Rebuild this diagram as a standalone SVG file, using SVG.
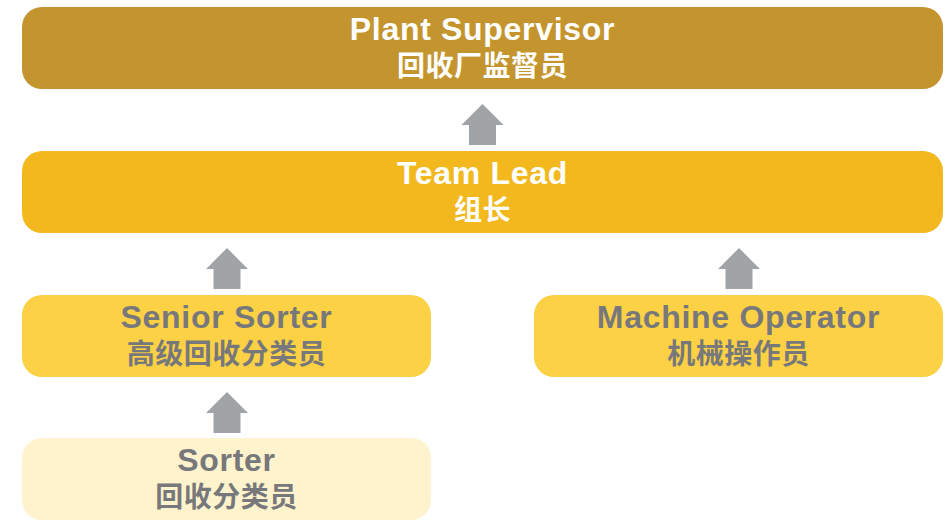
<svg xmlns="http://www.w3.org/2000/svg" width="951" height="521" viewBox="0 0 951 521">
  <defs>
    <style>
      .en { font-family: "Liberation Sans", Arial, sans-serif; font-weight: bold; font-size: 32px; letter-spacing: 0.7px; text-anchor: middle; }
      .zh { font-family: "Noto Sans CJK SC", "Liberation Sans", sans-serif; font-weight: bold; font-size: 28px; letter-spacing: 0.5px; text-anchor: middle; }
      .light { fill: #ffffff; }
      .dark { fill: #77787b; }
      .arrow { fill: #a1a4a7; }
    </style>
    <!-- block arrow pointing up, tip at origin -->
    <path id="up" d="M0 0 L21 21 L13.5 21 L13.5 41 L-13.5 41 L-13.5 21 L-21 21 Z"/>
  </defs>
  <rect width="951" height="521" fill="#ffffff"/>

  <g id="connectors">
    <use href="#up" class="arrow" x="482.5" y="104"/>
    <use href="#up" class="arrow" x="227" y="248"/>
    <use href="#up" class="arrow" x="739" y="248"/>
    <use href="#up" class="arrow" x="227" y="392"/>
  </g>

  <g id="plant-supervisor">
    <rect x="22" y="7" width="921" height="82" rx="20" fill="#c4952e"/>
    <text class="en light" x="482.5" y="40">Plant Supervisor</text>
    <text class="zh light" x="482.5" y="75.5">回收厂监督员</text>
  </g>

  <g id="team-lead">
    <rect x="22" y="151" width="921" height="82" rx="20" fill="#f2b81e"/>
    <text class="en light" x="482.5" y="184">Team Lead</text>
    <text class="zh light" x="482.5" y="219.5">组长</text>
  </g>

  <g id="senior-sorter">
    <rect x="22" y="295" width="409" height="82" rx="20" fill="#fdd145"/>
    <text class="en dark" x="226.5" y="328">Senior Sorter</text>
    <text class="zh dark" x="226.5" y="363.5">高级回收分类员</text>
  </g>

  <g id="machine-operator">
    <rect x="534" y="295" width="409" height="82" rx="20" fill="#fdd145"/>
    <text class="en dark" x="738.5" y="328">Machine Operator</text>
    <text class="zh dark" x="738.5" y="363.5">机械操作员</text>
  </g>

  <g id="sorter">
    <rect x="22" y="438" width="409" height="82" rx="20" fill="#fef3cc"/>
    <text class="en dark" x="226.5" y="471">Sorter</text>
    <text class="zh dark" x="226.5" y="506.5">回收分类员</text>
  </g>
</svg>
